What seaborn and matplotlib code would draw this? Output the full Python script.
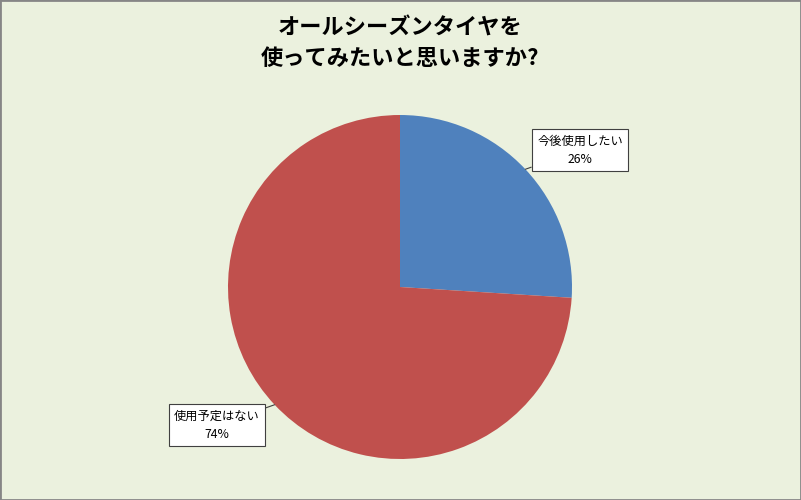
import numpy as np
import matplotlib
matplotlib.use('Agg')
import matplotlib.pyplot as plt
import seaborn as sns

labels = ['今後使用したい', '使用予定はない']
values = [26, 74]
colors = ['#4F81BD', '#C0504D']
title = 'オールシーズンタイヤを\n使ってみたいと思いますか?'

sns.set_theme(style='white')
plt.rcParams['font.family'] = ['Noto Sans CJK JP', 'DejaVu Sans']

bg = '#EBF1DE'
fig = plt.figure(figsize=(8.01, 5.0), dpi=100, facecolor=bg)

# pie axes: centre (400, 287) px, radius 172 px
cx, cy, r = 400, 287, 172
ax = fig.add_axes([(cx - r) / 801, (500 - cy - r) / 500, 2 * r / 801, 2 * r / 500])
ax.set_facecolor('none')

wedges, _ = ax.pie(values, colors=colors, startangle=90, counterclock=False,
                   radius=1, wedgeprops=dict(linewidth=0))
ax.set_xlim(-1, 1)
ax.set_ylim(-1, 1)
ax.set_aspect('equal')
ax.axis('off')

# label boxes (centres in pixels)
box_pos = [(580, 150), (217, 425)]
for w, lab, v, (bx, by) in zip(wedges, labels, values, box_pos):
    ang = np.deg2rad((w.theta1 + w.theta2) / 2)
    px, py = np.cos(ang), np.sin(ang)
    tx, ty = (bx - cx) / r, (cy - by) / r
    ax.annotate(f'{lab}\n{v}%', xy=(px, py), xytext=(tx, ty),
                ha='center', va='center', fontsize=8.8, linespacing=1.5,
                color='black', annotation_clip=False,
                bbox=dict(boxstyle='square,pad=0.45', fc='white', ec='#404040', lw=0.8),
                arrowprops=dict(arrowstyle='-', color='#404040', lw=0.8,
                                shrinkA=0, shrinkB=0))

fig.text(400 / 801, 1 - 43 / 500, title, ha='center', va='center',
         fontsize=16, fontweight='bold', linespacing=1.4, color='black')

fig.patches.append(plt.Rectangle((0, 0), 1, 1, transform=fig.transFigure,
                                 fill=False, ec='#868686', lw=2))

fig.savefig('out.png', dpi=100, facecolor=bg)
